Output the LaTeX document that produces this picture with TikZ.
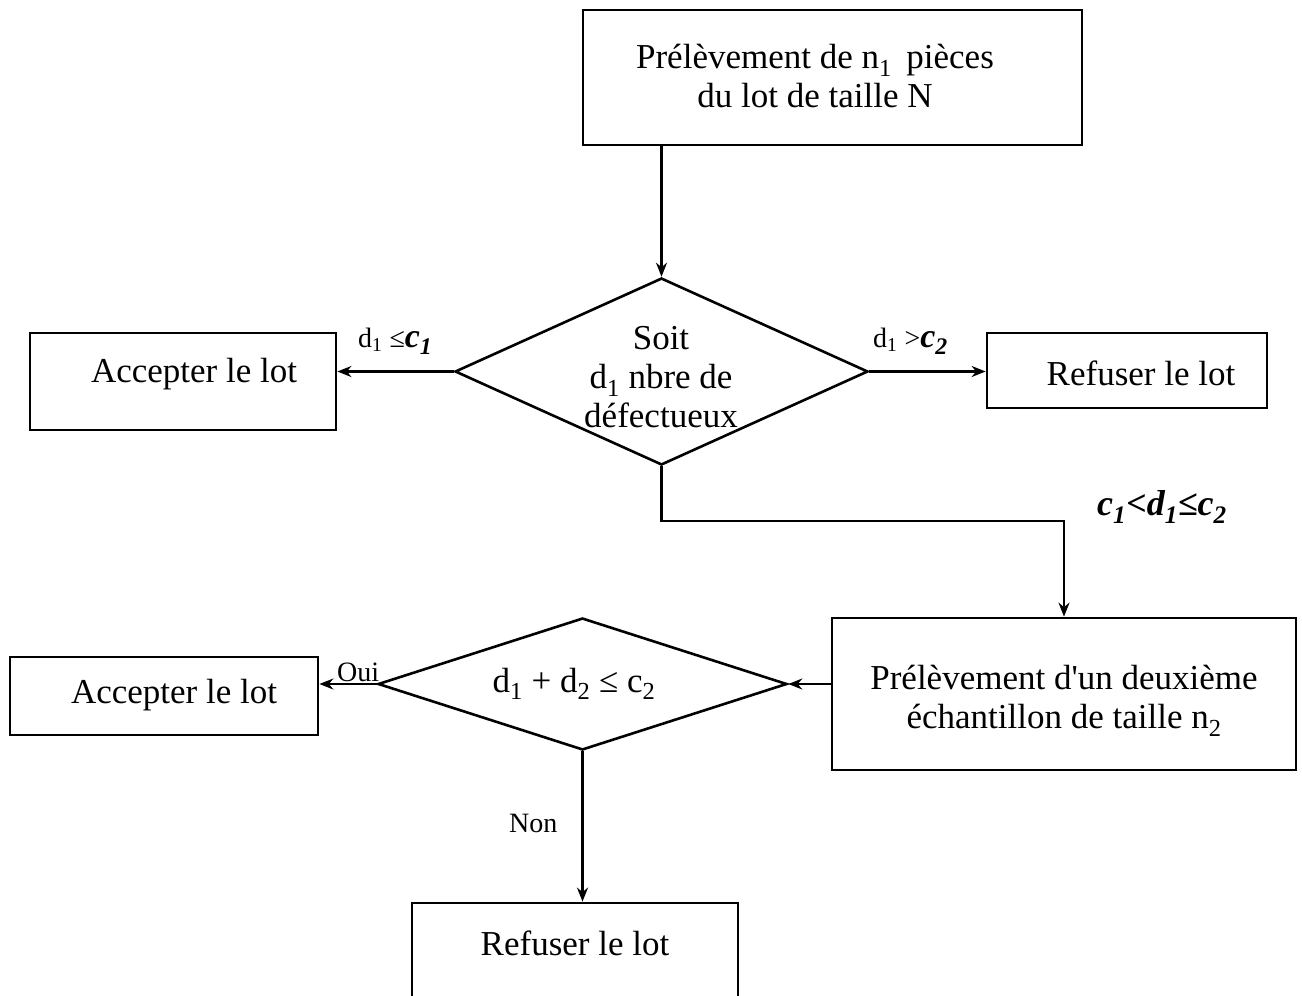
\documentclass[tikz,border=0pt]{standalone}
\usepackage{fontspec}
\setmainfont{Liberation Serif}
\newfontfamily\plainserif{Liberation Serif}
\usetikzlibrary{shapes.geometric,arrows.meta,calc}
\begin{document}
\begin{tikzpicture}[x=1pt,y=-1pt,
  box/.style={draw,line width=2.8pt,rectangle,inner sep=0pt},
  dia/.style={draw,line width=2.6pt,diamond,inner sep=0pt},
  txt/.style={font=\plainserif\fontsize{35}{39}\selectfont,align=center,inner sep=0pt},
  lab/.style={font=\plainserif\fontsize{28}{30}\selectfont,inner sep=0pt},
  hand/.style={font=\fontsize{36}{38}\selectfont\itshape\bfseries,inner sep=0pt},
  arr/.style={line width=2.2pt,-{Stealth[length=14pt,width=11pt]}}]
\useasboundingbox (0,0) rectangle (1302,996);
\clip (0,0) rectangle (1302,996);
% boxes
\node[box,minimum width=499pt,minimum height=135pt] (top) at (832.5,77.5) {};
\node[txt] (toptxt) at (815,76) {Prélèvement de n\textsubscript{1}\, pièces\\du lot de taille N};
\node[box,minimum width=306pt,minimum height=97pt] (acc1) at (183,381.5) {};
\node[txt] (acc1txt) at (194,374) {Accepter le lot};
\node[box,minimum width=280pt,minimum height=75pt] (ref1) at (1127,370.5) {};
\node[txt] (ref1txt) at (1141,373) {Refuser le lot};
\node[box,minimum width=464pt,minimum height=152pt] (samp2) at (1064,694) {};
\node[txt] (samp2txt) at (1064,701) {Prélèvement d'un deuxième\\échantillon de taille n\textsubscript{2}};
\node[box,minimum width=308pt,minimum height=78pt] (acc2) at (164,696) {};
\node[txt] (acc2txt) at (174,695) {Accepter le lot};
\node[box,minimum width=326pt,minimum height=110pt] (ref2) at (575,958) {};
\node[txt] (ref2txt) at (575,943) {Refuser le lot};
% diamonds
\node[dia,minimum width=413pt,minimum height=187pt] (d1) at (661.5,371.5) {};
\node[txt] (d1txt) at (661,377) {Soit\\d\textsubscript{1} nbre de\\défectueux};
\node[dia,minimum width=409pt,minimum height=132pt] (d2) at (582.5,684) {};
\node[txt] (d2txt) at (574,684) {d\textsubscript{1} + d\textsubscript{2} ≤ c\textsubscript{2}};
% connectors
\draw[arr] (d1.north |- top.south) -- (d1.north);
\draw[arr] (d1.west) -- (d1.west -| acc1.east);
\draw[arr] (d1.east) -- (d1.east -| ref1.west);
\draw[arr] (d1.south) -- ++(0,55) -| (samp2.north);
\draw[arr] (samp2.west |- d2.east) -- (d2.east);
\draw[arr] (d2.west) -- (d2.west -| acc2.east);
\draw[arr] (d2.south) -- (d2.south |- ref2.north);
% labels
\node[lab,anchor=base west] (l1) at (358,347) {d\textsubscript{1} ≤{\fontsize{34}{36}\selectfont\bfseries\itshape c\textsubscript{1}}};
\node[lab,anchor=base west] (l2) at (873,347) {d\textsubscript{1} >{\fontsize{34}{36}\selectfont\bfseries\itshape c\textsubscript{2}}};
\node[hand,anchor=base west] (l3) at (1097,515) {c\textsubscript{1}<d\textsubscript{1}≤c\textsubscript{2}};
\node[lab,anchor=base west] (oui) at (337,681) {Oui};
\node[lab,anchor=base west] (non) at (509,832) {Non};
\end{tikzpicture}
\end{document}
